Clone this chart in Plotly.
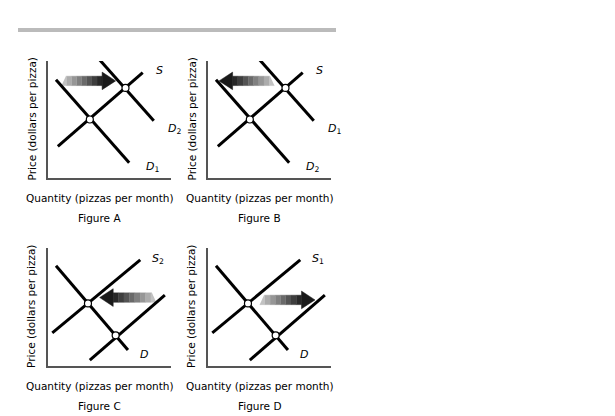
import plotly.graph_objects as go

# Panel data (units 0-10 on each axis)
panels = ["A", "B", "C", "D"]
lines = {
    "A": [((0.8, 2.7), (7.7, 9.0)), ((0.65, 8.4), (6.6, 1.3)), ((4.2, 10.1), (8.6, 4.9))],
    "B": [((0.8, 2.7), (7.7, 9.0)), ((0.65, 8.4), (6.6, 1.3)), ((4.2, 10.1), (8.6, 4.9))],
    "C": [((0.35, 2.8), (7.5, 9.0)), ((3.4, 0.5), (9.5, 6.0)), ((0.65, 8.5), (6.5, 1.35))],
    "D": [((0.35, 2.8), (7.5, 9.0)), ((3.4, 0.5), (9.5, 6.0)), ((0.65, 8.5), (6.5, 1.35))],
}
equilibria = {
    "A": [(3.4, 5.0), (6.3, 7.7)],
    "B": [(3.4, 5.0), (6.3, 7.7)],
    "C": [(3.25, 5.3), (5.5, 2.6)],
    "D": [(3.25, 5.3), (5.5, 2.6)],
}
curve_labels = {
    "A": [("S", None, 8.6, 9.2), ("D", "2", 9.6, 4.2), ("D", "1", 7.8, 0.9)],
    "B": [("S", None, 8.6, 9.2), ("D", "1", 9.6, 4.2), ("D", "2", 7.8, 0.9)],
    "C": [("S", "2", 8.3, 9.1), ("S", "1", 10.4, 6.0), ("D", None, 7.3, 1.0)],
    "D": [("S", "1", 8.3, 9.1), ("S", "2", 10.4, 6.0), ("D", None, 7.3, 1.0)],
}
arrows = {  # tail x, head x, y
    "A": (1.1, 5.5, 8.3),
    "B": (5.4, 0.9, 8.3),
    "C": (8.8, 4.2, 5.8),
    "D": (4.2, 8.7, 5.6),
}
titles = ["Figure A", "Figure B", "Figure C", "Figure D"]
xlabel = "Quantity (pizzas per month)"
ylabel = "Price (dollars per pizza)"

W, H = 615, 416
domx = {"A": (40, 163), "B": (200, 323), "C": (40, 163), "D": (200, 323)}
domy = {"A": (53, 170), "B": (53, 170), "C": (240, 358), "D": (240, 358)}

fig = go.Figure()
font = "DejaVu Sans"

for i, p in enumerate(panels):
    n = "" if i == 0 else str(i + 1)
    xa, ya = "x" + n, "y" + n
    x0, x1 = domx[p]
    y0, y1 = domy[p]
    fig.layout["xaxis" + n] = dict(domain=[x0 / W, x1 / W], range=[0, 10], showgrid=False, zeroline=False,
                                   showticklabels=False, showline=True, linecolor="#555", linewidth=1.5,
                                   anchor=ya, fixedrange=True)
    fig.layout["yaxis" + n] = dict(domain=[1 - y1 / H, 1 - y0 / H], range=[0, 10], showgrid=False, zeroline=False,
                                   showticklabels=False, showline=True, linecolor="#555", linewidth=1.5,
                                   anchor=xa, fixedrange=True)
    tx, hx, ay = arrows[p]
    d = 1 if hx > tx else -1
    headlen = 1.1
    bx_end = hx - d * headlen
    nseg = 8
    for k in range(nseg):
        a = tx + (bx_end - tx) * k / nseg
        b = tx + (bx_end - tx) * (k + 1) / nseg
        g = int(205 - 175 * (k + 0.5) / nseg)
        col = f"rgb({g},{g},{g})"
        sl = 0.35 if k == 0 else 0
        fig.add_trace(go.Scatter(x=[a + d * sl, b, b, a], y=[ay + 0.4, ay + 0.4, ay - 0.4, ay - 0.4],
                                 fill="toself", fillcolor=col, line=dict(width=0.5, color=col), mode="lines",
                                 xaxis=xa, yaxis=ya, hoverinfo="skip", showlegend=False))
    fig.add_trace(go.Scatter(x=[bx_end, hx, bx_end, bx_end], y=[ay + 0.75, ay, ay - 0.75, ay + 0.75],
                             fill="toself", fillcolor="#1a1a1a", line=dict(width=0.5, color="#1a1a1a"),
                             mode="lines", xaxis=xa, yaxis=ya, hoverinfo="skip", showlegend=False))
    for (a, b) in lines[p]:
        fig.add_trace(go.Scatter(x=[a[0], b[0]], y=[a[1], b[1]], mode="lines",
                                 line=dict(color="black", width=3), xaxis=xa, yaxis=ya,
                                 hoverinfo="skip", showlegend=False))
    ex = [e[0] for e in equilibria[p]]
    ey = [e[1] for e in equilibria[p]]
    fig.add_trace(go.Scatter(x=ex, y=ey, mode="markers",
                             marker=dict(color="white", size=7, line=dict(color="black", width=1.2)),
                             xaxis=xa, yaxis=ya, hoverinfo="skip", showlegend=False))
    for (s, sub, lx, ly) in curve_labels[p]:
        txt = f"<i>{s}</i>" + (f"<sub>{sub}</sub>" if sub else "")
        fig.add_annotation(x=lx, y=ly, xref=xa, yref=ya, text=txt, showarrow=False,
                           font=dict(family=font, size=11, color="black"), xanchor="left", yanchor="middle")
    cx = (x0 + x1) / 2 / W - 10 / W
    fig.add_annotation(x=cx, y=1 - (y1 + 20) / H, xref="paper", yref="paper", text=xlabel,
                       showarrow=False, xanchor="center", yanchor="middle",
                       font=dict(family=font, size=10.5, color="black"))
    fig.add_annotation(x=cx, y=1 - (y1 + 40) / H, xref="paper", yref="paper", text=titles[i],
                       showarrow=False, xanchor="center", yanchor="middle",
                       font=dict(family=font, size=10.5, color="black"))
    fig.add_annotation(x=(x0 - 17) / W, y=1 - (y0 + y1) / 2 / H, xref="paper", yref="paper", text=ylabel,
                       textangle=-90, showarrow=False, xanchor="center", yanchor="middle",
                       font=dict(family=font, size=10.5, color="black"))

for yy in (20, 409):
    fig.add_shape(type="rect", xref="paper", yref="paper", x0=10 / W, x1=328 / W,
                  y0=1 - (yy + 4) / H, y1=1 - yy / H, fillcolor="#bbbbbb", line=dict(width=0))

fig.update_layout(width=W, height=H, margin=dict(l=0, r=0, t=0, b=0),
                  paper_bgcolor="white", plot_bgcolor="white")
fig.write_html("out.html")
